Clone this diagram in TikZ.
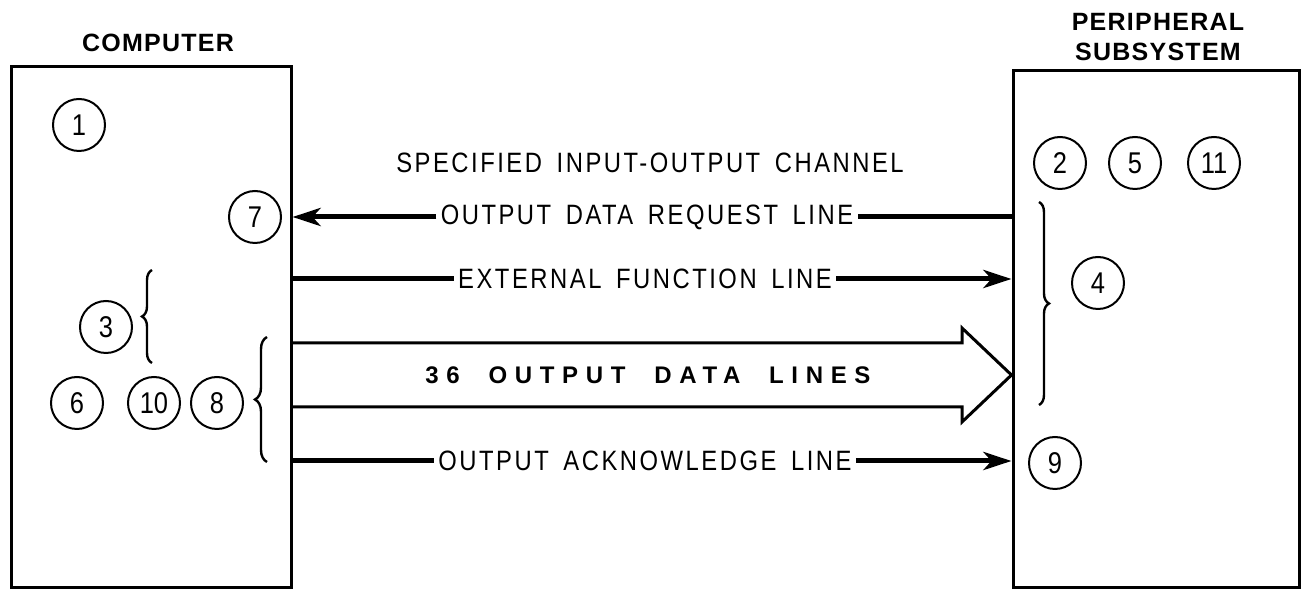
\documentclass[tikz,border=0pt]{standalone}
\usepackage{fontspec}
\setmainfont{Liberation Sans}
\newfontfamily\lblfont[LetterSpace=9,WordSpace=1.6,FakeStretch=0.85]{Liberation Sans}
\newfontfamily\numfont[FakeStretch=0.85]{Liberation Sans}
\newfontfamily\ttlfont[LetterSpace=5]{Liberation Sans}
\newfontfamily\busfont[LetterSpace=32,WordSpace=2]{Liberation Sans}
\usepackage{tikz}
\usetikzlibrary{arrows.meta,positioning,decorations.pathreplacing}

\begin{document}
\begin{tikzpicture}[x=0.5pt,y=-0.5pt,
	unit/.style={draw,line width=1.5pt,inner sep=0pt},
	num/.style={circle,draw,line width=1pt,minimum size=26pt,inner sep=0pt,font=\numfont\fontsize{15}{15}\selectfont},
	lbl/.style={inner sep=2pt,font=\lblfont\fontsize{14}{14}\selectfont},
	ttl/.style={align=center,font=\ttlfont\bfseries\fontsize{12.5}{15}\selectfont},
	line/.style={line width=2.5pt},
	sig/.style={line,-{Stealth[length=14pt,width=9pt,inset=4pt]}},
	grp/.style={decorate,decoration={brace,amplitude=5pt},line width=1.2pt}]
	
	\useasboundingbox (0,0) rectangle (1303,592);
	
	% the two units
	\node[unit,minimum width=140pt,minimum height=260.5pt] (computer) at (151,327.5) {};
	\node[unit,minimum width=143pt,minimum height=258.5pt] (periph) at (1156,329.5) {};
	\node[ttl] (ctitle) at (158,43) {COMPUTER};
	\node[ttl] (ptitle) at (1158,37) {PERIPHERAL\\SUBSYSTEM};
	
	% numbered notes
	\node[num] (n1) at (79,125) {1};
	\node[num] (n7) at (255,217) {7};
	\node[num] (n3) at (106,327) {3};
	\node[num] (n6) at (77,403) {6};
	\node[num,right=11.5pt of n6] (n10) {10};
	\node[num,right=4.5pt of n10] (n8) {8};
	\node[num] (n2) at (1060,163) {2};
	\node[num,right=10.5pt of n2] (n5) {5};
	\node[num,right=12.5pt of n5] (n11) {11};
	\node[num] (n4) at (1098,283) {4};
	\node[num] (n9) at (1055,463) {9};
	
	\draw[grp] (152,363) -- (152,270);
	\draw[grp,decoration={brace,amplitude=6pt}] (267,462) -- (267,337);
	\draw[grp] (1039,202) -- (1039,405);
	
	% channel lines
	\node[lbl] (chan) at (650,163) {SPECIFIED INPUT-OUTPUT CHANNEL};
	\node[lbl] (req) at (647,217) {OUTPUT DATA REQUEST LINE};
	\node[lbl] (ext) at (645,279) {EXTERNAL FUNCTION LINE};
	\node[lbl] (ack) at (645,461) {OUTPUT ACKNOWLEDGE LINE};
	\node[font=\busfont\bfseries\fontsize{12}{12}\selectfont] (bus) at (648,375) {36 OUTPUT DATA LINES};
	
	\draw[line] (periph.west |- req) -- (req.east);
	\draw[sig] (req.west) -- (computer.east |- req);
	\draw[line] (computer.east |- ext) -- (ext.west);
	\draw[sig] (ext.east) -- (periph.west |- ext);
	\draw[line] (computer.east |- ack) -- (ack.west);
	\draw[sig] (ack.east) -- (periph.west |- ack);
	
	% wide data arrow
	\coordinate (bustop) at (962,343);
	\coordinate (busbot) at (962,407);
	\draw[line width=1.5pt] (computer.east |- bustop) -- (bustop) -- (962,328)
		-- (periph.west |- bus) -- (962,422) -- (busbot) -- (computer.east |- busbot);
	
\end{tikzpicture}
\end{document}
